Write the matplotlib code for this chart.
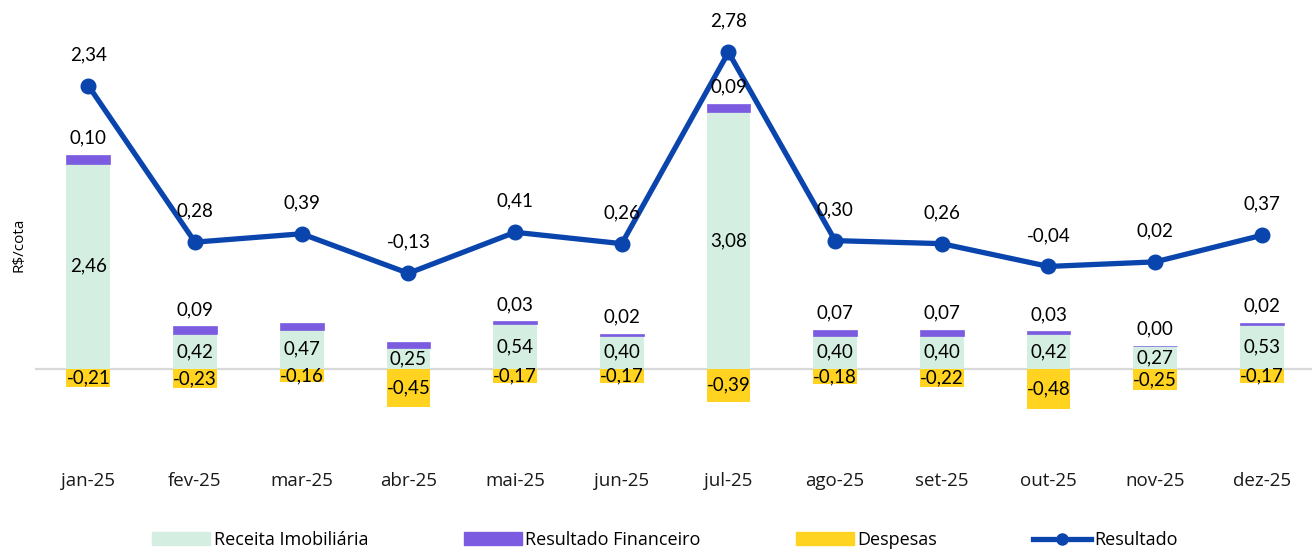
import matplotlib
matplotlib.use("Agg")
import matplotlib.pyplot as plt
from matplotlib.lines import Line2D
from matplotlib.patches import Patch

months = ["jan-25", "fev-25", "mar-25", "abr-25", "mai-25", "jun-25",
          "jul-25", "ago-25", "set-25", "out-25", "nov-25", "dez-25"]
receita = [2.46, 0.42, 0.47, 0.25, 0.54, 0.40, 3.08, 0.40, 0.40, 0.42, 0.27, 0.53]
financeiro = [0.10, 0.09, 0.08, 0.07, 0.03, 0.02, 0.09, 0.07, 0.07, 0.03, 0.004, 0.02]
despesas = [-0.21, -0.23, -0.16, -0.45, -0.17, -0.17, -0.39, -0.18, -0.22, -0.48, -0.25, -0.17]
resultado = [2.34, 0.28, 0.39, -0.13, 0.41, 0.26, 2.78, 0.30, 0.26, -0.04, 0.02, 0.37]

# labels not shown in the original for these months (financeiro)
hide_fin = {2, 3}

c_rec = "#d4efe1"
c_fin = "#7b5ce0"
c_desp = "#ffd320"
c_line = "#0a45ad"

num_font = "Lato"
txt_font = "Open Sans"
lab_size = 13.5


def fmt(v):
    return f"{v:.2f}".replace(".", ",")


fig = plt.figure(figsize=(13.12, 5.52), dpi=100)
ax = fig.add_axes([35 / 1312, 90 / 552, 1 - 35 / 1312, 442 / 552])
ax2 = ax.twinx()

x = list(range(len(months)))
w = 0.41
ax.bar(x, receita, w, color=c_rec, zorder=2)
ax.bar(x, financeiro, w, bottom=receita, color=c_fin, edgecolor=c_fin,
       lw=0.5, zorder=2)
ax.bar(x, despesas, w, color=c_desp, zorder=2)
ax.axhline(0, color="#d9d9d9", lw=1.6, zorder=1)

ax.set_xlim(-0.5, 11.47)
ax.set_ylim(-1.114, 4.18)
ax2.set_ylim(-2.615, 3.205)

ax2.plot(x, resultado, color=c_line, lw=3.8, marker="o", ms=10.5, zorder=3)

for a in (ax, ax2):
    for s in a.spines.values():
        s.set_visible(False)
    a.set_yticks([])

ax.set_xticks(x)
ax.set_xticklabels(months, fontsize=13.5, family=txt_font, color="#1a1a1a")
ax.tick_params(axis="x", length=0, pad=7)

# data labels drawn on the top axes so they sit above the line
for i in x:
    ax2.annotate(fmt(receita[i]), (i, receita[i] / 2), xycoords=ax.transData,
                 ha="center", va="center", fontsize=lab_size, family=num_font)
    if i not in hide_fin:
        ax2.annotate(fmt(financeiro[i]), (i, receita[i] + financeiro[i]),
                     xycoords=ax.transData, xytext=(0, 17),
                     textcoords="offset pixels", ha="center", va="center",
                     fontsize=lab_size, family=num_font)
    ax2.annotate(fmt(despesas[i]), (i, despesas[i] / 2), xycoords=ax.transData,
                 ha="center", va="center", fontsize=lab_size, family=num_font)
    ax2.annotate(fmt(resultado[i]), (i, resultado[i]), xytext=(0, 31),
                 textcoords="offset pixels", ha="center", va="center",
                 fontsize=lab_size, family=num_font)

fig.text(19 / 1312, 1 - 245 / 552, r"R\$/cota", rotation=90, ha="center",
         va="center", fontsize=11, family=txt_font)

handles = [
    Patch(color=c_rec, label="Receita Imobiliária"),
    Patch(color=c_fin, label="Resultado Financeiro"),
    Patch(color=c_desp, label="Despesas"),
    Line2D([], [], color=c_line, lw=3.8, marker="o", ms=8, label="Resultado"),
]
fig.legend(handles=handles, loc="center", bbox_to_anchor=(0.507, 0.022),
           ncol=4, frameon=False, prop={"family": txt_font, "size": 13},
           handlelength=3.2, handletextpad=0.2, columnspacing=5.3,
           borderpad=0.1)

fig.savefig("out.png", dpi=100)
